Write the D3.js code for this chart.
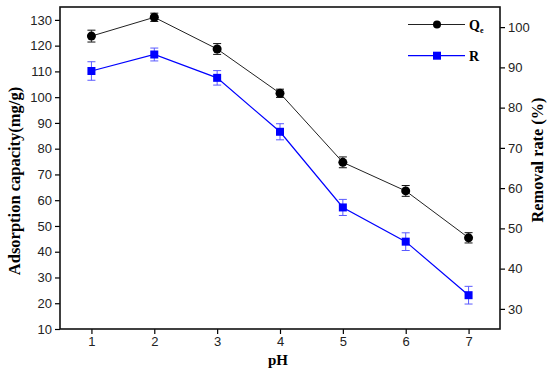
<!DOCTYPE html>
<html><head><meta charset="utf-8">
<script src="https://cdn.jsdelivr.net/npm/d3@7"></script>
<style>body{margin:0;background:#fff}svg{display:block}</style>
</head><body>
<svg id="c" width="550" height="371"></svg>
<script>
const pH = [1, 2, 3, 4, 5, 6, 7];
const qe = [123.7, 131.0, 118.7, 101.5, 74.7, 63.6, 45.4];
const qeErr = [2.3, 1.6, 2.1, 1.6, 2.1, 2.1, 2.0];
const rate = [89.1, 93.2, 87.4, 74.0, 55.2, 46.7, 33.4];
const rateErr = [2.3, 1.6, 1.8, 2.0, 2.0, 2.2, 2.2];
const leftTicks = [10,20,30,40,50,60,70,80,90,100,110,120,130];
const rightTicks = [30,40,50,60,70,80,90,100];

const svg = d3.select("#c");
const m = {l:60, r:500, t:7, b:329};
const x = d3.scaleLinear().domain([0.5, 7.5]).range([m.l, m.r]);
const yL = d3.scaleLinear().domain([10, 135]).range([m.b, m.t]);
const yR = d3.scaleLinear().domain([25, 105]).range([m.b, m.t]);

const tickFont = "Liberation Sans, Arial, sans-serif";
const titleFont = "Liberation Serif, Times New Roman, serif";

function styleAxis(g){
  g.select(".domain").remove();
  g.selectAll(".tick line").attr("stroke","#000").attr("stroke-width",1.2);
  g.selectAll(".tick text").attr("font-family",tickFont).attr("font-size",13).attr("fill","#222");
}
svg.append("g").attr("transform",`translate(${m.l},0)`)
  .call(d3.axisLeft(yL).tickValues(leftTicks).tickFormat(d3.format("d")).tickSize(5).tickPadding(3)).call(styleAxis);
svg.append("g").attr("transform",`translate(${m.r},0)`)
  .call(d3.axisRight(yR).tickValues(rightTicks).tickFormat(d3.format("d")).tickSize(5).tickPadding(3)).call(styleAxis);
svg.append("g").attr("transform",`translate(0,${m.b})`)
  .call(d3.axisBottom(x).tickValues(pH).tickFormat(d3.format("d")).tickSize(5).tickPadding(3)).call(styleAxis);

svg.append("rect").attr("x",m.l).attr("y",m.t).attr("width",m.r-m.l).attr("height",m.b-m.t)
  .attr("fill","none").attr("stroke","#111").attr("stroke-width",1.6);

const line = (ys, vals) => d3.line().x((d,i)=>x(pH[i])).y((d,i)=>ys(vals[i]))(vals);
function errBars(ys, vals, errs, col, capCol){
  const g = svg.append("g");
  vals.forEach((v,i)=>{
    const cx = x(pH[i]), y1 = ys(v+errs[i]), y2 = ys(v-errs[i]);
    g.append("line").attr("x1",cx).attr("x2",cx).attr("y1",y1).attr("y2",y2).attr("stroke",col).attr("stroke-width",1);
    [y1,y2].forEach(yy=>g.append("line").attr("x1",cx-4).attr("x2",cx+4).attr("y1",yy).attr("y2",yy).attr("stroke",capCol).attr("stroke-width",1));
  });
}
// Series R (blue, right axis)
svg.append("path").attr("d",line(yR, rate)).attr("fill","none").attr("stroke","#0000ff").attr("stroke-width",1.2);
errBars(yR, rate, rateErr, "#5a5aff", "#5a5aff");
svg.append("g").selectAll("rect").data(rate).join("rect")
  .attr("x",(d,i)=>x(pH[i])-4).attr("y",d=>yR(d)-4).attr("width",8).attr("height",8).attr("fill","#0000ff");

// Series Qe (black, left axis)
svg.append("path").attr("d",line(yL, qe)).attr("fill","none").attr("stroke","#222").attr("stroke-width",1);
errBars(yL, qe, qeErr, "#555", "#111");
svg.append("g").selectAll("circle").data(qe).join("circle")
  .attr("cx",(d,i)=>x(pH[i])).attr("cy",d=>yL(d)).attr("r",4.5).attr("fill","#000");

// Legend
const lg = svg.append("g");
lg.append("line").attr("x1",408).attr("x2",465).attr("y1",24.5).attr("y2",24.5).attr("stroke","#222").attr("stroke-width",1);
lg.append("circle").attr("cx",437).attr("cy",24.5).attr("r",4).attr("fill","#000");
const qt = lg.append("text").attr("x",469).attr("y",29.5).attr("font-family",titleFont).attr("font-weight","bold").attr("font-size",14);
qt.append("tspan").text("Q");
qt.append("tspan").attr("font-size",8).attr("dy",3).text("e");
lg.append("line").attr("x1",408).attr("x2",465).attr("y1",55.7).attr("y2",55.7).attr("stroke","#0000ff").attr("stroke-width",1.2);
lg.append("rect").attr("x",433).attr("y",51.7).attr("width",8).attr("height",8).attr("fill","#0000ff");
lg.append("text").attr("x",469).attr("y",60.5).attr("font-family",titleFont).attr("font-weight","bold").attr("font-size",14).text("R");

// Titles
svg.append("text").attr("x",278).attr("y",365).attr("text-anchor","middle")
  .attr("font-family",titleFont).attr("font-weight","bold").attr("font-size",15).text("pH");
svg.append("text").attr("transform","translate(20,181) rotate(-90)").attr("text-anchor","middle")
  .attr("font-family",titleFont).attr("font-weight","bold").attr("font-size",16.5).text("Adsorption capacity(mg/g)");
svg.append("text").attr("transform","translate(543,160) rotate(-90)").attr("text-anchor","middle")
  .attr("font-family",titleFont).attr("font-weight","bold").attr("font-size",16.3).text("Removal rate (%)");
</script>
</body></html>
